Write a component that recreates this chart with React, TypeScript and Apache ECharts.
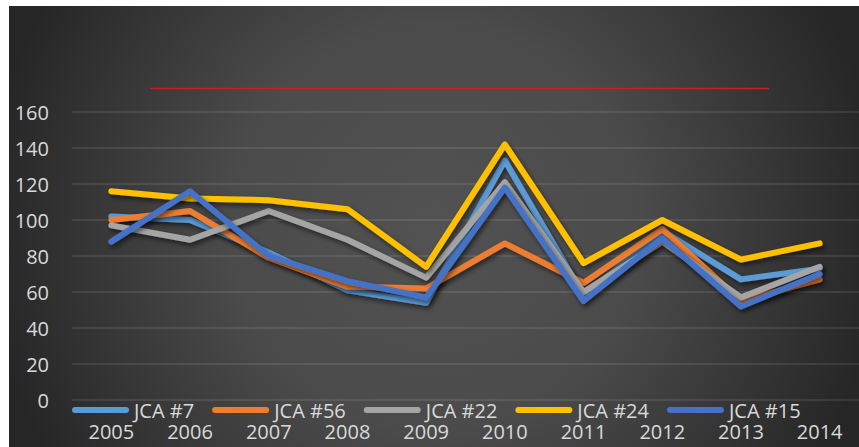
import React, { useEffect, useRef } from "react";
import * as echarts from "echarts";

const years = ["2005", "2006", "2007", "2008", "2009", "2010", "2011", "2012", "2013", "2014"];
const jca7 = [102, 100, 82, 61, 54, 133, 58, 94, 67, 73];
const jca56 = [100, 105, 79, 63, 62, 87, 65, 95, 55, 67];
const jca22 = [97, 89, 105, 89, 68, 121, 60, 88, 57, 74];
const jca24 = [116, 112, 111, 106, 74, 142, 76, 100, 78, 87];
const jca15 = [88, 116, 80, 66, 57, 118, 55, 90, 52, 70];
const seriesNames = ["JCA #7", "JCA #56", "JCA #22", "JCA #24", "JCA #15"];
const seriesColors = ["#5B9BD5", "#ED7D31", "#A5A5A5", "#FFC000", "#4472C4"];
const yTicks = { min: 0, max: 160, interval: 20 };

const FONT = "'Open Sans', 'Noto Sans', sans-serif";
const TEXT = "#d9d9d9";

export default function App() {
  const ref = useRef<HTMLDivElement>(null);
  useEffect(() => {
    if (!ref.current) return;
    const chart = echarts.init(ref.current, null, { renderer: "svg" });
    const values = [jca7, jca56, jca22, jca24, jca15];
    chart.setOption({
      animation: false,
      backgroundColor: "transparent",
      grid: { left: 63, right: 0, top: 106, bottom: 47, containLabel: false },
      legend: {
        left: 63,
        top: 394,
        padding: 0,
        itemWidth: 57,
        itemHeight: 6,
        itemGap: 18,
        icon: "path://M3 0H54A3 3 0 0 1 54 6H3A3 3 0 0 1 3 0Z",
        textStyle: { color: TEXT, fontSize: 20, fontFamily: FONT },
        data: seriesNames,
      },
      xAxis: {
        type: "category",
        data: years,
        boundaryGap: true,
        axisLine: { show: false },
        axisTick: { show: false },
        axisLabel: { color: TEXT, fontSize: 20, fontFamily: FONT, margin: 21 },
      },
      yAxis: {
        type: "value",
        min: yTicks.min,
        max: yTicks.max,
        interval: yTicks.interval,
        axisLine: { show: false },
        axisTick: { show: false },
        axisLabel: { color: TEXT, fontSize: 20, fontFamily: FONT, margin: 23 },
        splitLine: { lineStyle: { color: "rgba(255,255,255,0.12)", width: 1.5 } },
      },
      graphic: [
        {
          type: "line",
          shape: { x1: 141, y1: 82.5, x2: 760, y2: 82.5 },
          style: { stroke: "#d41a1a", lineWidth: 1.5 },
          silent: true,
        },
      ],
      series: seriesNames.map((name, i) => ({
        name,
        type: "line",
        data: values[i],
        symbol: "none",
        showSymbol: false,
        color: seriesColors[i],
        lineStyle: {
          color: seriesColors[i],
          width: 6,
          cap: "round",
          join: "round",
          shadowColor: "rgba(0,0,0,0.55)",
          shadowBlur: 5,
          shadowOffsetX: 2,
          shadowOffsetY: 3,
        },
        itemStyle: { color: seriesColors[i] },
      })),
    });
    return () => chart.dispose();
  }, []);
  return (
    <div
      ref={ref}
      style={{
        position: "absolute",
        left: 9,
        top: 6,
        width: 850,
        height: 441,
        background:
          "radial-gradient(circle 450px at 50% 50%, #525252 0%, #4b4b4b 45%, #262626 100%)",
      }}
    />
  );
}
